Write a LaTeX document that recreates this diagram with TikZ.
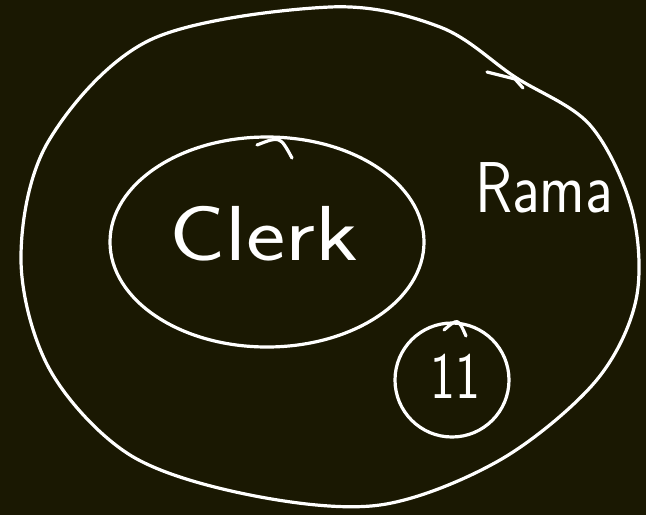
\documentclass[tikz,border=0pt]{standalone}
\begin{document}
\begin{tikzpicture}[x=1pt,y=-1pt,
  ink/.style={draw=white,line width=3.2pt,line cap=round,line join=round},
  hand/.style={text=white,inner sep=0pt}]
\fill[fill={rgb,255:red,26;green,24;blue,2}] (0,0) rectangle (646,515);
\useasboundingbox (0,0) rectangle (646,515);
% outer set (Rama)
\draw[ink] plot[smooth cycle,tension=0.55] coordinates{
 (330,7) (440,27) (515,77) (590,125) (632,210) (636,300) (595,382) (500,460) (380,505)
 (250,495) (130,455) (50,370) (21,260) (48,142) (150,40)};
\draw[ink] (487,72) -- (515,79) -- (523,88);
% inner set (Clerk)
\draw[ink] (267,242) ellipse[x radius=157,y radius=105];
\draw[ink] (257,145) .. controls (280,136) .. (292,158);
% small set
\draw[ink] (452,380) circle[radius=57];
\draw[ink] (444,330) .. controls (458,318) .. (466,336);
% labels
\node[hand,font=\sffamily\fontsize{78}{78}\selectfont,xscale=1.2] (clerk) at (264,234) {Clerk};
\node[hand,font=\sffamily\fontsize{72}{72}\selectfont,xscale=0.85] (rama) at (544,188) {Rama};
\node[hand,font=\sffamily\fontsize{66}{66}\selectfont,xscale=0.8] (h) at (455,376) {11};
\end{tikzpicture}
\end{document}
